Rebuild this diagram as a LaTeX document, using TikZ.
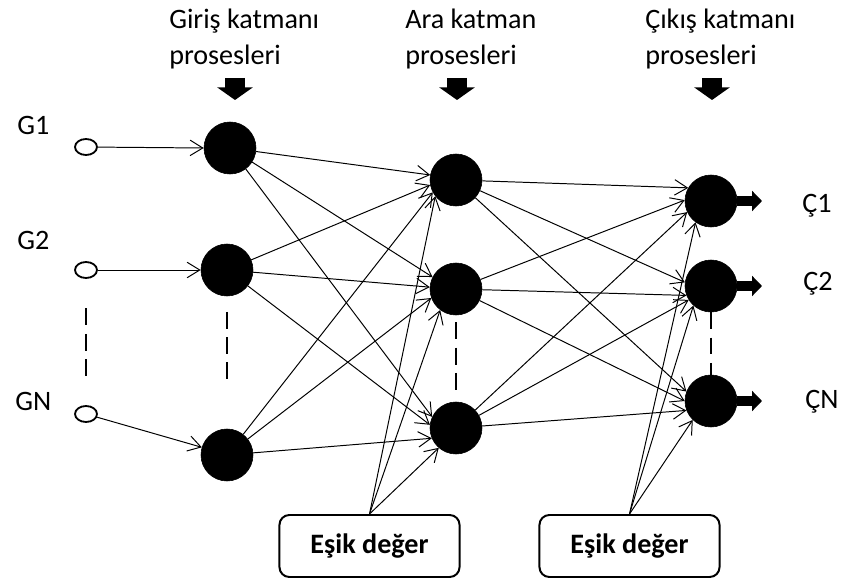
\documentclass[tikz,border=0pt]{standalone}
\usepackage{fontspec}
\setmainfont{Carlito}
\usepackage{tikz}
\usetikzlibrary{arrows.meta,shapes.geometric}
\tikzset{
  neuron/.style ={circle, fill=black, draw=black, minimum size=1.3cm, inner sep=0pt},
  girdi/.style  ={ellipse, draw=black, line width=1.3pt, fill=white,
                  minimum width=0.55cm, minimum height=0.4cm, inner sep=0pt},
  esik/.style   ={rectangle, rounded corners=7pt, draw=black, line width=1.4pt,
                  minimum width=4.5cm, minimum height=1.55cm,
                  font=\fontsize{20}{24}\selectfont\bfseries},
  lbl/.style    ={font=\fontsize{20}{24}\selectfont, inner sep=0pt, anchor=base west},
  baslik/.style ={font=\fontsize{20}{26.3}\selectfont, inner sep=0pt, align=left,
                  anchor=base west},
  ok/.style     ={-{Straight Barb[length=9pt,width=11pt]}, line width=0.7pt},
  cikis/.style  ={-{Triangle[length=7pt,width=14pt]}, line width=7pt},
  asagi/.style  ={-{Triangle[length=9pt,width=25pt]}, line width=14pt},
  kesik/.style  ={line width=0.8pt, dash pattern=on 12pt off 6pt}
}

\begin{document}
\begin{tikzpicture}[x=0.025cm, y=-0.025cm]
\useasboundingbox (0,0) rectangle (843,584);

% layer headings
\node[baslik] (t1) at (169,65) {Giriş katmanı\\prosesleri};
\node[baslik] (t2) at (405,65) {Ara katman\\prosesleri};
\node[baslik] (t3) at (645,65) {Çıkış katmanı\\prosesleri};
\foreach \n/\x in {1/235, 2/457, 3/712} {
  \coordinate (ust\n) at (\x,78);
  \coordinate (alt\n) at (\x,100);
  \draw[asagi] (ust\n) -- (alt\n);
}

% inputs
\node[lbl] (lg1) at (17,135) {G1};
\node[lbl] (lg2) at (17,250) {G2};
\node[lbl] (lgn) at (15,410) {GN};
\node[girdi] (g1) at (86,147) {};
\node[girdi] (g2) at (86,270) {};
\node[girdi] (gn) at (86,414) {};

% neurons
\node[neuron] (i1) at (230,148) {};
\node[neuron] (i2) at (227,270) {};
\node[neuron] (i3) at (227,455) {};
\node[neuron] (h1) at (456,180) {};
\node[neuron] (h2) at (456,289) {};
\node[neuron] (h3) at (456,428) {};
\node[neuron] (o1) at (711,201) {};
\node[neuron] (o2) at (711,286) {};
\node[neuron] (o3) at (711,401) {};

% thresholds
\node[esik] (e1) at (369.5,546) {Eşik değer};
\node[esik] (e2) at (629.5,546) {Eşik değer};

\draw[ok] (g1) -- (i1.180);
\draw[ok] (g2) -- (i2.180);
\draw[ok] (gn) -- (i3.163);

\foreach \s/\t/\a in {i1/h1/169, i2/h1/191, i3/h1/208,
                      i1/h2/153, i2/h2/176, i3/h2/200,
                      i1/h3/155, i2/h3/173, i3/h3/203}
  \draw[ok] (\s) -- (\t.\a);
\foreach \t/\a in {h1/218, h2/233, h3/229}
  \draw[ok] (e1.north) -- (\t.\a);

\foreach \s/\t/\a in {h1/o1/150, h2/o1/178, h3/o1/205,
                      h1/o2/172, h2/o2/201, h3/o2/212,
                      h1/o3/159, h2/o3/180, h3/o3/201}
  \draw[ok] (\s) -- (\t.\a);
\foreach \t/\a in {o1/234, o2/228, o3/226}
  \draw[ok] (e2.north) -- (\t.\a);

% outputs
\foreach \n/\y in {1/201, 2/286, 3/401} {
  \coordinate (son\n) at (762,\y);
  \draw[cikis] (o\n.east) -- (son\n);
}
\node[lbl] (lc1) at (802,213) {Ç1};
\node[lbl] (lc2) at (803,290) {Ç2};
\node[lbl] (lcn) at (805,408) {ÇN};

% dots between units
\draw[kesik] ([yshift=-21pt]g2.south) -- ([yshift=21pt]gn.north);
\draw[kesik] ([yshift=-11pt]i2.south) -- ([yshift=33pt]i3.north);
\draw[kesik] ([yshift=-5pt]h2.south) -- ([yshift=7pt]h3.north);
\draw[kesik] (o2.south) -- (o3.north);
\end{tikzpicture}
\end{document}
